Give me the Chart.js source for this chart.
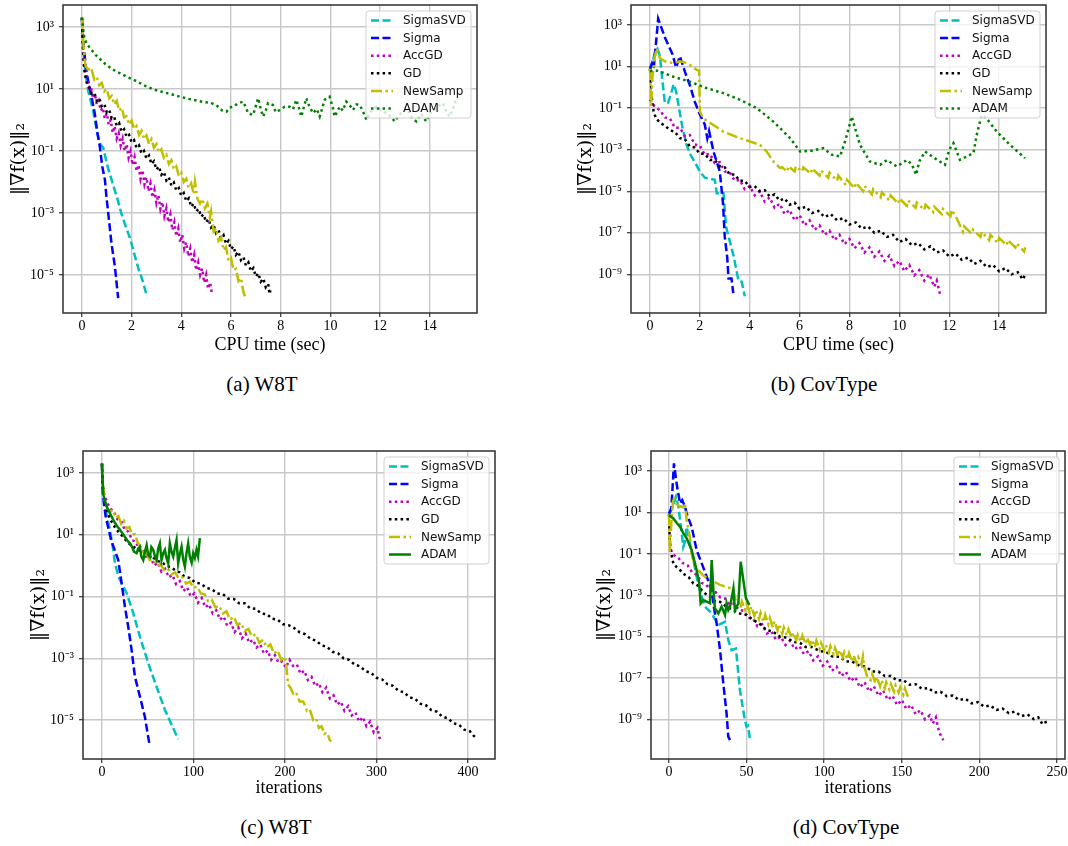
<!DOCTYPE html>
<html lang="en">
<head>
<meta charset="UTF-8" />
<title>Gradient norm vs time / iterations</title>
<script src="https://cdn.jsdelivr.net/npm/chart.js"></script>
<style>
  body {
    margin: 0;
    background: #fff;
    width: 1068px;
    height: 846px;
    position: relative;
    overflow: hidden;
  }

  canvas {
    position: absolute;
  }

  .cap {
    position: absolute;
    font-family: "Liberation Serif", serif;
    font-size: 21px;
    color: #000;
    transform: translateX(-50%);
    white-space: nowrap;
  }
</style>
</head>
<body>

<canvas id="chA" width="500" height="362" style="left:0;top:0"></canvas>
<canvas id="chB" width="508" height="362" style="left:560px;top:0"></canvas>
<canvas id="chC" width="510" height="362" style="left:0;top:440px"></canvas>
<canvas id="chD" width="508" height="362" style="left:560px;top:440px"></canvas>

<div class="cap" style="left:262px;top:372px">(a) W8T</div>
<div class="cap" style="left:824px;top:372px">(b) CovType</div>
<div class="cap" style="left:276px;top:815px">(c) W8T</div>
<div class="cap" style="left:846px;top:815px">(d) CovType</div>

<script>
// series values are [x, log10 of ||grad f(x)||_2]
const seriesNames = ['SigmaSVD', 'Sigma', 'AccGD', 'GD', 'NewSamp', 'ADAM'];

const timeTicks = [0, 2, 4, 6, 8, 10, 12, 14];
const iterTicksW8T = [0, 100, 200, 300, 400];
const iterTicksCov = [0, 50, 100, 150, 200, 250];
const yTicksShort = [1e3, 1e1, 1e-1, 1e-3, 1e-5];
const yLabelsShort = ['10³', '10¹', '10⁻¹', '10⁻³', '10⁻⁵'];
const yTicksLong = [1e3, 1e1, 1e-1, 1e-3, 1e-5, 1e-7, 1e-9];
const yLabelsLong = ['10³', '10¹', '10⁻¹', '10⁻³', '10⁻⁵', '10⁻⁷', '10⁻⁹'];

// (a) W8T, CPU time
const aSigmaSVD = [[0,3.28],[0.05,2.4],[0.12,1.7],[0.25,0.95],[0.46,0.27],[0.6,-0.35],[0.72,-0.75],[0.86,-0.9],[1.05,-1.55],[1.26,-2.1],[1.45,-2.6],[1.6,-3.05],[1.75,-3.4],[1.93,-3.8],[2.1,-4.3],[2.27,-4.78],[2.45,-5.2],[2.62,-5.7]];
const aSigma = [[0,3.28],[0.08,2.3],[0.19,1.5],[0.35,0.9],[0.52,0.2],[0.62,-0.4],[0.72,-0.85],[0.82,-1.5],[0.93,-1.95],[0.99,-2.5],[1.06,-3.0],[1.19,-3.98],[1.33,-4.74],[1.46,-5.75]];
const aAccGD = [[0,3.3],[0.04,2.5],[0.08,1.85],[0.14,1.5],[0.2,1.35],[0.28,1.05],[0.36,1.1],[0.44,0.7],[0.52,0.85],[0.6,0.5],[0.68,0.62],[0.76,0.3],[0.84,0.4],[0.92,0.05],[1.0,0.22],[1.08,-0.15],[1.16,0.0],[1.24,-0.42],[1.32,-0.2],[1.4,-0.6],[1.48,-0.42],[1.56,-0.82],[1.64,-0.6],[1.72,-1.0],[1.8,-0.78],[1.88,-1.22],[1.96,-1.0],[2.04,-1.45],[2.12,-1.2],[2.2,-1.65],[2.28,-1.45],[2.36,-1.9],[2.44,-1.62],[2.52,-2.08],[2.6,-1.85],[2.68,-2.3],[2.76,-2.05],[2.84,-2.5],[2.92,-2.25],[3.0,-2.68],[3.08,-2.42],[3.16,-2.88],[3.24,-2.65],[3.32,-3.1],[3.4,-2.85],[3.48,-3.3],[3.56,-3.05],[3.64,-3.55],[3.72,-3.3],[3.8,-3.75],[3.88,-3.5],[3.96,-3.95],[4.04,-3.7],[4.12,-4.15],[4.2,-3.95],[4.28,-4.4],[4.36,-4.15],[4.44,-4.6],[4.52,-4.35],[4.6,-4.85],[4.68,-4.6],[4.76,-5.0],[4.84,-4.8],[4.92,-5.25],[5.0,-5.0],[5.08,-5.45],[5.16,-5.25],[5.24,-5.65]];
const aGD = [[0,3.3],[0.03,2.6],[0.06,2.0],[0.1,1.6],[0.15,1.35],[0.2,1.2],[0.3,1.05],[0.4,0.85],[0.5,0.88],[0.6,0.62],[0.7,0.7],[0.8,0.45],[0.9,0.52],[1.0,0.25],[1.1,0.32],[1.2,0.05],[1.3,0.1],[1.4,-0.18],[1.5,-0.1],[1.6,-0.38],[1.7,-0.3],[1.8,-0.55],[1.9,-0.48],[2.0,-0.72],[2.1,-0.65],[2.2,-0.9],[2.3,-0.82],[2.4,-1.08],[2.5,-1.0],[2.6,-1.25],[2.7,-1.15],[2.8,-1.42],[2.9,-1.33],[3.0,-1.6],[3.1,-1.5],[3.2,-1.77],[3.3,-1.68],[3.4,-1.95],[3.5,-1.85],[3.6,-2.12],[3.7,-2.02],[3.8,-2.28],[3.9,-2.2],[4.0,-2.45],[4.1,-2.36],[4.2,-2.62],[4.3,-2.53],[4.4,-2.8],[4.5,-2.7],[4.6,-2.95],[4.7,-2.87],[4.8,-3.12],[4.9,-3.05],[5.0,-3.3],[5.1,-3.2],[5.2,-3.47],[5.3,-3.38],[5.4,-3.65],[5.5,-3.55],[5.6,-3.82],[5.7,-3.72],[5.8,-4.0],[5.9,-3.9],[6.0,-4.17],[6.1,-4.08],[6.2,-4.35],[6.3,-4.25],[6.4,-4.52],[6.5,-4.42],[6.6,-4.7],[6.7,-4.6],[6.8,-4.88],[6.9,-4.78],[7.0,-5.05],[7.1,-4.95],[7.2,-5.22],[7.3,-5.12],[7.4,-5.4],[7.5,-5.3],[7.55,-5.62],[7.6,-5.45]];
const aNewSamp = [[0,3.3],[0.05,2.6],[0.1,2.0],[0.15,1.75],[0.2,1.68],[0.25,1.75],[0.3,1.55],[0.4,1.6],[0.5,1.3],[0.6,1.38],[0.7,1.12],[0.8,1.2],[0.9,0.92],[1.0,1.0],[1.1,0.7],[1.2,0.78],[1.3,0.5],[1.4,0.62],[1.5,0.3],[1.6,0.4],[1.7,0.08],[1.8,0.12],[1.9,-0.15],[2.0,-0.02],[2.1,-0.3],[2.2,-0.2],[2.3,-0.48],[2.4,-0.35],[2.5,-0.62],[2.6,-0.5],[2.7,-0.78],[2.8,-0.62],[2.9,-0.9],[3.0,-0.78],[3.1,-1.05],[3.2,-0.95],[3.3,-1.22],[3.4,-1.12],[3.5,-1.42],[3.6,-1.3],[3.7,-1.6],[3.8,-1.5],[3.9,-1.8],[4.0,-1.7],[4.1,-2.0],[4.2,-1.9],[4.3,-2.2],[4.4,-2.05],[4.5,-2.4],[4.55,-2.0],[4.65,-2.55],[4.75,-2.7],[4.85,-2.55],[4.95,-2.85],[5.05,-2.7],[5.15,-3.15],[5.2,-2.95],[5.3,-3.6],[5.4,-3.5],[5.5,-3.9],[5.6,-3.8],[5.7,-4.2],[5.8,-4.1],[5.9,-4.55],[6.0,-4.45],[6.1,-4.85],[6.2,-4.8],[6.3,-5.2],[6.4,-5.1],[6.5,-5.55],[6.56,-5.7]];
const aADAM = [[0,3.3],[0.05,2.95],[0.1,2.65],[0.2,2.45],[0.35,2.3],[0.55,2.1],[0.75,1.95],[0.95,1.8],[1.2,1.65],[1.5,1.52],[1.85,1.38],[2.2,1.25],[2.55,1.1],[2.9,0.98],[3.25,0.9],[3.6,0.83],[3.95,0.75],[4.3,0.68],[4.65,0.62],[4.95,0.57],[5.2,0.55],[5.45,0.45],[5.65,0.3],[5.82,0.27],[5.95,0.4],[6.09,0.43],[6.29,0.54],[6.49,0.59],[6.6,0.4],[6.69,0.22],[6.89,0.16],[7.0,0.45],[7.09,0.7],[7.2,0.35],[7.29,0.11],[7.4,0.3],[7.49,0.54],[7.69,0.48],[7.8,0.25],[7.96,0.32],[8.16,0.43],[8.36,0.43],[8.5,0.35],[8.63,0.65],[8.73,0.4],[8.83,0.11],[9.03,0.7],[9.15,0.45],[9.3,0.22],[9.45,0.35],[9.57,0.11],[9.77,0.65],[9.97,0.75],[10.1,0.4],[10.17,0.11],[10.38,0.43],[10.5,0.3],[10.64,0.59],[10.8,0.45],[10.91,0.32],[11.05,0.5],[11.18,0.48],[11.3,0.3],[11.45,0.0],[11.6,0.25],[11.85,0.43],[12.05,0.3],[12.25,0.22],[12.45,0.1],[12.59,-0.05],[12.75,0.15],[12.92,0.27],[13.1,0.35],[13.3,0.05],[13.46,-0.05],[13.65,0.2],[13.86,-0.05],[14.0,0.2],[14.13,0.32],[14.35,0.45],[14.53,0.54],[14.65,0.3],[14.8,0.11],[14.95,0.4],[15.07,0.7]];

// (b) CovType, CPU time
const bSigmaSVD = [[0,0.8],[0.1,1.2],[0.2,1.7],[0.3,1.85],[0.4,1.5],[0.5,0.3],[0.6,-0.75],[0.72,-0.75],[0.85,-0.3],[0.95,0.15],[1.05,-0.2],[1.15,-0.9],[1.3,-1.9],[1.45,-2.7],[1.6,-3.2],[1.8,-3.6],[2.0,-4.05],[2.2,-4.35],[2.4,-4.4],[2.6,-4.45],[2.68,-5.1],[2.95,-5.1],[3.05,-6.7],[3.35,-8.1],[3.55,-9.3],[3.68,-9.35],[3.8,-10.05]];
const bSigma = [[0,0.9],[0.08,1.15],[0.15,0.9],[0.33,3.3],[0.6,2.4],[0.9,1.6],[1.05,0.95],[1.2,1.5],[1.4,0.75],[1.6,0.1],[1.8,-0.7],[2.0,-1.3],[2.2,-1.8],[2.3,-2.45],[2.37,-2.1],[2.55,-3.1],[2.8,-4.05],[2.93,-5.6],[3.0,-7.2],[3.1,-8.2],[3.15,-9.2],[3.27,-9.2],[3.34,-9.9]];
const bAccGD = [[0,-0.6],[0.2,-0.95],[0.4,-1.1],[0.6,-1.45],[0.8,-1.5],[1.0,-1.95],[1.2,-1.95],[1.4,-2.35],[1.6,-2.3],[1.8,-2.75],[2.0,-2.8],[2.2,-3.25],[2.4,-3.2],[2.6,-3.65],[2.8,-3.6],[3.0,-4.05],[3.2,-4.1],[3.4,-4.5],[3.6,-4.45],[3.8,-4.9],[4.0,-4.75],[4.2,-5.2],[4.4,-5.0],[4.6,-5.5],[4.8,-5.3],[5.0,-5.8],[5.2,-5.6],[5.4,-6.1],[5.6,-5.9],[5.8,-6.4],[6.0,-6.15],[6.2,-6.65],[6.4,-6.4],[6.6,-6.85],[6.8,-6.65],[7.0,-7.1],[7.2,-6.9],[7.4,-7.35],[7.6,-7.1],[7.8,-7.55],[8.0,-7.3],[8.2,-7.75],[8.4,-7.5],[8.6,-7.95],[8.8,-7.7],[9.0,-8.15],[9.2,-7.9],[9.4,-8.35],[9.6,-8.1],[9.8,-8.6],[10.0,-8.35],[10.2,-8.85],[10.4,-8.55],[10.6,-9.05],[10.8,-8.8],[11.0,-9.3],[11.2,-9.0],[11.4,-9.6],[11.5,-9.3],[11.63,-9.95]];
const bGD = [[0,0.9],[0.04,0.2],[0.08,-0.6],[0.15,-1.2],[0.25,-1.5],[0.4,-1.7],[0.6,-1.85],[0.8,-2.05],[1.0,-2.15],[1.2,-2.45],[1.4,-2.5],[1.6,-2.85],[1.8,-2.9],[2.0,-3.2],[2.2,-3.2],[2.4,-3.5],[2.6,-3.5],[2.8,-3.8],[3.0,-3.85],[3.2,-4.2],[3.4,-4.2],[3.6,-4.5],[3.8,-4.5],[4.0,-4.8],[4.2,-4.75],[4.4,-5.0],[4.6,-4.95],[4.8,-5.25],[5.0,-5.15],[5.2,-5.45],[5.4,-5.35],[5.6,-5.65],[5.8,-5.55],[6.0,-5.85],[6.25,-5.75],[6.5,-6.05],[6.75,-5.95],[7.0,-6.25],[7.25,-6.1],[7.5,-6.4],[7.75,-6.3],[8.0,-6.6],[8.25,-6.5],[8.5,-6.8],[8.75,-6.7],[9.0,-7.0],[9.25,-6.9],[9.5,-7.2],[9.75,-7.1],[10.0,-7.45],[10.25,-7.3],[10.5,-7.6],[10.75,-7.5],[11.0,-7.8],[11.25,-7.65],[11.5,-7.95],[11.75,-7.85],[12.0,-8.15],[12.25,-8.0],[12.5,-8.3],[12.75,-8.2],[13.0,-8.5],[13.25,-8.35],[13.5,-8.65],[13.75,-8.55],[14.0,-8.85],[14.25,-8.7],[14.5,-9.0],[14.75,-8.9],[14.95,-9.25],[15.05,-9.0]];
const bNewSamp = [[0,0.9],[0.05,-0.9],[0.1,0.5],[0.2,1.5],[0.27,1.88],[0.4,1.4],[0.6,1.25],[0.94,1.16],[1.2,1.25],[1.4,1.2],[1.6,1.08],[1.87,0.84],[1.97,0.8],[2.0,-1.17],[2.14,-1.49],[2.94,-2.13],[3.61,-2.45],[4.41,-2.77],[4.68,-3.09],[4.95,-3.57],[5.22,-3.89],[5.3,-3.85],[5.5,-4.05],[5.55,-3.8],[5.8,-4.05],[5.85,-3.8],[6.1,-4.05],[6.15,-3.85],[6.45,-4.15],[6.5,-3.9],[6.8,-4.25],[6.85,-4.0],[7.15,-4.35],[7.2,-4.1],[7.5,-4.5],[7.55,-4.25],[7.85,-4.7],[7.9,-4.45],[8.2,-4.85],[8.25,-4.6],[8.55,-5.0],[8.6,-4.75],[8.9,-5.15],[8.95,-4.9],[9.25,-5.3],[9.3,-5.05],[9.6,-5.45],[9.65,-5.2],[9.95,-5.6],[10.0,-5.35],[10.3,-5.7],[10.35,-5.45],[10.65,-5.8],[10.7,-5.55],[11.0,-5.9],[11.05,-5.65],[11.35,-6.0],[11.4,-5.75],[11.7,-6.1],[11.75,-5.85],[12.05,-6.2],[12.1,-5.9],[12.3,-6.3],[12.55,-6.95],[12.6,-6.7],[12.9,-7.05],[12.95,-6.85],[13.25,-7.2],[13.3,-6.95],[13.6,-7.35],[13.65,-7.1],[13.95,-7.5],[14.0,-7.25],[14.3,-7.6],[14.35,-7.35],[14.65,-7.7],[14.7,-7.5],[15.0,-7.9],[15.05,-7.7]];
const bADAM = [[0,0.77],[0.3,0.8],[0.94,0.51],[1.6,0.27],[2.27,-0.04],[2.94,-0.28],[3.61,-0.6],[4.28,-1.0],[4.95,-1.65],[5.62,-2.45],[6.02,-3.09],[6.5,-3.05],[6.95,-2.93],[7.3,-3.25],[7.62,-3.33],[7.85,-2.5],[8.09,-1.41],[8.42,-2.77],[8.82,-3.57],[9.23,-3.73],[9.5,-3.5],[9.9,-3.81],[10.3,-3.5],[10.5,-3.7],[10.67,-4.21],[10.8,-3.57],[11.03,-3.09],[11.4,-3.4],[11.83,-3.73],[12.0,-3.0],[12.17,-2.69],[12.43,-3.49],[12.97,-3.17],[13.1,-2.3],[13.3,-1.33],[13.5,-1.5],[13.9,-2.13],[14.44,-2.77],[15.04,-3.41]];

// (c) W8T, iterations
const cSigmaSVD = [[0,3.3],[1,2.5],[3.3,1.9],[8.7,1.16],[12.4,0.5],[14.2,0.08],[18,-0.35],[21.5,-0.57],[27,-0.89],[34.2,-1.54],[41.5,-2.3],[50.6,-3.16],[59.7,-3.92],[68.8,-4.67],[77.8,-5.26],[83.3,-5.62]];
const cSigma = [[0,3.3],[1,2.3],[4,1.6],[10,0.83],[17.8,0.18],[21.5,-0.57],[25.1,-1.33],[28.7,-1.97],[32.4,-2.73],[36,-3.59],[41.5,-4.24],[46.9,-4.89],[51.7,-5.75]];
const cAccGD = [[0,3.3],[1,2.6],[2,2.35],[5,2.1],[9,1.85],[13,1.75],[17,1.5],[21,1.45],[25,1.15],[29,1.1],[33,0.82],[37,0.78],[41,0.5],[45,0.52],[49,0.25],[53,0.3],[57,0.0],[61,0.1],[65,-0.2],[69,-0.1],[73,-0.38],[77,-0.3],[81,-0.6],[85,-0.5],[89,-0.82],[93,-0.7],[97,-1.0],[101,-0.9],[105,-1.2],[109,-1.05],[113,-1.35],[117,-1.25],[121,-1.55],[125,-1.45],[129,-1.75],[133,-1.65],[137,-1.95],[141,-1.85],[145,-2.15],[149,-2.0],[153,-2.35],[157,-2.2],[161,-2.5],[165,-2.4],[169,-2.65],[173,-2.55],[177,-2.85],[181,-2.75],[185,-3.05],[189,-2.9],[193,-3.15],[197,-3.1],[201,-3.3],[205,-3.05],[209,-3.25],[213,-3.2],[217,-3.5],[221,-3.4],[225,-3.7],[229,-3.6],[233,-3.9],[237,-3.8],[241,-4.1],[245,-3.95],[249,-4.3],[253,-4.2],[257,-4.5],[261,-4.4],[265,-4.7],[269,-4.55],[273,-4.85],[277,-4.75],[281,-5.05],[285,-4.9],[289,-5.2],[293,-5.05],[297,-5.4],[301,-5.25],[303,-5.55],[305,-5.7]];
const cGD = [[0,3.3],[1,2.5],[3.3,2.1],[6,1.75],[9,1.5],[12,1.35],[15,1.2],[19,1.05],[23,0.94],[28,0.75],[34,0.62],[40,0.5],[45,0.45],[50,0.32],[55,0.3],[60,0.15],[65,0.12],[70,0.0],[75,-0.05],[80,-0.15],[85,-0.22],[90,-0.35],[96,-0.4],[102,-0.55],[108,-0.58],[114,-0.72],[120,-0.76],[126,-0.9],[132,-0.92],[138,-1.07],[144,-1.08],[150,-1.22],[156,-1.22],[162,-1.38],[168,-1.4],[174,-1.55],[180,-1.57],[186,-1.72],[192,-1.75],[198,-1.9],[204,-1.93],[210,-2.02],[216,-2.16],[222,-2.22],[228,-2.37],[234,-2.43],[240,-2.58],[246,-2.63],[252,-2.79],[258,-2.84],[264,-3.0],[270,-3.05],[276,-3.2],[282,-3.26],[288,-3.42],[294,-3.47],[300,-3.63],[306,-3.68],[312,-3.84],[318,-3.89],[324,-4.05],[330,-4.1],[336,-4.26],[342,-4.31],[348,-4.47],[354,-4.52],[360,-4.68],[366,-4.73],[372,-4.89],[378,-4.94],[384,-5.1],[390,-5.15],[396,-5.31],[402,-5.36],[406,-5.5],[409,-5.6]];
const cNewSamp = [[0,3.3],[1,2.6],[3,2.1],[6,1.85],[9,1.75],[12,1.8],[15,1.55],[18,1.6],[21,1.35],[24,1.45],[27,1.2],[30,1.25],[33,1.0],[36,1.02],[39,0.75],[42,0.62],[45,0.4],[48,0.45],[52,0.18],[56,0.2],[60,0.0],[64,0.05],[68,-0.15],[72,-0.1],[76,-0.28],[80,-0.22],[84,-0.42],[88,-0.38],[92,-0.58],[96,-0.52],[100,-0.72],[104,-0.68],[108,-0.9],[112,-0.92],[116,-1.15],[120,-1.1],[124,-1.35],[128,-1.3],[132,-1.55],[136,-1.48],[140,-1.75],[144,-1.65],[148,-1.92],[152,-1.85],[156,-2.12],[160,-2.05],[164,-2.3],[168,-2.22],[172,-2.5],[176,-2.4],[180,-2.65],[184,-2.55],[188,-2.85],[192,-2.75],[196,-3.05],[200,-2.95],[201.6,-3.3],[203.4,-3.85],[206,-3.95],[209,-4.15],[212,-4.1],[216,-4.4],[220,-4.4],[224,-4.7],[227,-4.65],[231,-5.0],[234,-4.95],[237,-5.25],[240,-5.2],[243,-5.45],[246,-5.4],[249,-5.65],[250.7,-5.69]];
const cADAM = [[0,3.3],[0.5,2.9],[1.5,2.3],[3.3,2.1],[6,1.85],[8.7,1.7],[12,1.5],[16,1.3],[19.7,1.16],[24,0.98],[28,0.8],[30.6,0.72],[33,0.6],[35,0.45],[37.9,0.4],[39.5,0.55],[41.5,0.61],[43,0.3],[45.1,0.18],[47,0.45],[48.8,0.66],[50.5,0.35],[52.4,0.29],[54,0.6],[56,0.51],[58,0.3],[59.7,0.18],[61.5,0.55],[63.3,0.72],[65.1,0.18],[67,0.4],[68.8,0.51],[70.5,0.25],[72.4,0.07],[74.2,0.72],[76,0.45],[77.9,0.29],[79.5,0.55],[81.5,0.83],[83.3,0.07],[85,0.35],[87,0.61],[88.8,0.2],[90.6,-0.03],[92.4,0.4],[94.2,0.72],[96,0.29],[98,0.1],[99.7,0.4],[101.5,0.25],[103.3,0.51],[105,0.3],[107,0.89]];

// (d) CovType, iterations
const dSigmaSVD = [[0,0.9],[2,1.2],[4.5,1.76],[6,1.3],[8.2,0.0],[9.2,-0.66],[10.3,-0.4],[11.4,0.31],[13.5,-0.49],[17.8,-2.1],[21.1,-3.07],[23.2,-3.55],[27.5,-3.87],[31.8,-4.44],[36.1,-4.28],[38.2,-5.16],[40.3,-5.65],[43.1,-5.57],[45.7,-7.58],[48.9,-9.03],[50,-9.35],[51,-9.3],[52.2,-10.0]];
const dSigma = [[0,0.95],[1.5,1.2],[3.2,3.37],[4.9,2.4],[7.1,1.44],[8.5,1.6],[10.3,1.28],[11.4,0.95],[14.6,0.31],[17.8,-0.82],[21.1,-1.46],[24.3,-2.1],[27.5,-2.75],[29,-3.6],[30.7,-4.36],[32.9,-5.65],[35,-7.26],[37.1,-8.71],[38.2,-9.83],[39.3,-10.0]];
const dAccGD = [[1,-0.8],[3,-1.05],[6,-1.2],[9,-1.45],[12,-1.55],[15,-1.9],[18,-2.0],[21,-2.4],[24,-2.5],[27,-2.8],[30,-2.85],[33,-3.1],[36,-3.15],[39,-3.45],[42,-3.4],[45,-3.7],[48,-3.75],[51,-4.1],[54,-4.1],[57,-4.5],[60,-4.4],[63,-4.85],[66,-4.75],[69,-5.15],[72,-5.0],[75,-5.4],[78,-5.2],[81,-5.6],[84,-5.45],[87,-5.85],[90,-5.7],[93,-6.15],[96,-5.95],[99,-6.4],[102,-6.2],[105,-6.65],[108,-6.45],[111,-6.9],[114,-6.7],[117,-7.15],[120,-6.95],[123,-7.45],[126,-7.2],[129,-7.65],[132,-7.4],[135,-7.85],[138,-7.6],[141,-8.05],[144,-7.85],[147,-8.3],[150,-8.05],[153,-8.5],[156,-8.3],[159,-8.75],[162,-8.55],[165,-9.0],[168,-8.8],[170,-9.2],[172,-8.9],[174,-9.6],[176.8,-10.0]];
const dGD = [[0,0.9],[0.5,-0.3],[1.5,-1.0],[2.8,-1.46],[5,-1.65],[7.1,-1.78],[10,-2.0],[13,-2.15],[15.7,-2.43],[19,-2.55],[22,-2.85],[26.4,-3.07],[30,-3.3],[33,-3.32],[37.1,-3.55],[41,-3.7],[45.7,-3.88],[50,-3.95],[54.3,-4.2],[58,-4.35],[62.9,-4.68],[67,-4.75],[71.5,-5.0],[76,-5.05],[80,-5.25],[84.4,-5.3],[88,-5.5],[92,-5.5],[97.3,-5.7],[101,-5.72],[105,-5.95],[110.2,-5.97],[114,-6.2],[118,-6.2],[123.1,-6.42],[127,-6.45],[131,-6.68],[135,-6.68],[139,-6.9],[143,-6.9],[147,-7.12],[151,-7.1],[155,-7.32],[159,-7.3],[163,-7.52],[167,-7.48],[171,-7.7],[175,-7.66],[179,-7.88],[183,-7.84],[187,-8.06],[191,-8.0],[195,-8.22],[199,-8.16],[203,-8.38],[207,-8.32],[211,-8.54],[215,-8.48],[219,-8.7],[223,-8.62],[227,-8.84],[231,-8.76],[235,-8.98],[238,-8.9],[240,-9.15],[242.3,-9.05],[243,-9.2]];
const dNewSamp = [[0,0.9],[0.5,-0.98],[1.5,0.5],[2.8,1.76],[4.9,1.4],[7.1,1.3],[9.2,1.25],[10.3,1.44],[11.4,0.6],[13.5,-0.2],[14.6,-1.0],[16.8,-1.6],[22.1,-2.05],[32.9,-2.5],[41.4,-2.7],[43,-3.25],[44,-3.25],[46,-3.6],[47,-3.3],[49,-3.7],[50,-3.4],[52,-3.85],[53,-3.55],[55,-4.0],[56,-3.7],[58,-4.15],[59,-3.85],[61,-4.3],[62,-3.95],[64,-4.4],[65,-4.1],[67,-4.55],[68,-4.25],[70,-4.7],[71,-4.4],[73,-4.85],[74,-4.55],[76,-4.95],[77,-4.65],[79,-5.05],[80,-4.8],[82,-5.15],[83,-4.9],[85,-5.25],[86,-4.95],[88,-5.35],[89,-5.05],[91,-5.4],[92,-5.15],[94,-5.5],[95,-5.2],[97,-5.6],[98,-5.3],[100,-5.65],[101,-5.4],[103,-5.75],[104,-5.45],[106,-5.85],[107,-5.55],[109,-5.95],[110,-5.65],[112,-6.0],[113,-5.75],[115,-6.1],[116,-5.8],[118,-6.2],[119,-5.9],[121,-6.3],[122,-6.0],[124,-6.35],[125,-5.95],[126,-6.5],[128,-7.0],[130,-7.1],[131,-6.8],[133,-7.25],[134,-6.95],[136,-7.4],[137,-7.1],[139,-7.5],[140,-7.2],[142,-7.55],[143,-7.3],[145,-7.65],[146,-7.35],[148,-7.7],[149,-7.45],[151,-7.8],[152,-7.5],[154,-7.9]];
const dADAM = [[0,0.87],[2.8,0.71],[4.9,0.5],[7.1,0.31],[9.2,0.0],[11.4,-0.25],[14.6,-0.82],[17.8,-1.78],[19.5,-2.43],[20.4,-3.39],[22.1,-3.23],[24.3,-3.31],[26.4,-3.39],[27.5,-1.3],[28.6,-2.75],[29.6,-3.63],[31.8,-3.88],[33.9,-3.55],[36.1,-3.96],[37.1,-3.39],[38.2,-3.71],[39.5,-3.5],[41.5,-2.67],[42.5,-3.71],[44.7,-3.39],[46.2,-1.38],[47.9,-2.27],[49.6,-3.15],[51.8,-3.47]];

// matplotlib-ish line styles
const dashed = [8, 3.5];
const dotted = [2.5, 3.3];
const dashDot = [11, 3.5, 2.5, 3.5];
const styleOf = {
    SigmaSVD: { color: '#00bfbf', dash: dashed },
    Sigma: { color: '#0000ff', dash: dashed },
    AccGD: { color: '#bf00bf', dash: dotted },
    GD: { color: '#000000', dash: dotted },
    NewSamp: { color: '#bfbf00', dash: dashDot },
    ADAM: { color: '#008000', dash: dotted }
};

function toPoints(arr) {
    return arr.map(p => ({ x: p[0], y: Math.pow(10, p[1]) }));
}

// frame round the plot + legend box in the upper right corner
const frameAndKey = {
    id: 'frameAndKey',
    afterDatasetsDraw(chart) {
        const { ctx, chartArea: a } = chart;
        ctx.save();
        ctx.setLineDash([]);
        ctx.strokeStyle = '#2e2e2e';
        ctx.lineWidth = 1.5;
        ctx.strokeRect(a.left, a.top, a.right - a.left, a.bottom - a.top);

        const w = 105, h = 107;
        const bx = a.right - 6 - w, by = a.top + 6;
        ctx.beginPath();
        ctx.roundRect(bx, by, w, h, 3);
        ctx.fillStyle = 'rgba(255,255,255,0.8)';
        ctx.fill();
        ctx.strokeStyle = '#d0d0d0';
        ctx.lineWidth = 1;
        ctx.stroke();

        ctx.font = '12px "DejaVu Sans", sans-serif';
        ctx.textBaseline = 'middle';
        chart.data.datasets.forEach((ds, i) => {
            const y = by + 9.5 + i * 17.6;
            ctx.strokeStyle = ds.borderColor;
            ctx.lineWidth = 2.5;
            ctx.setLineDash(ds.borderDash);
            ctx.beginPath();
            ctx.moveTo(bx + 5, y);
            ctx.lineTo(bx + 27, y);
            ctx.stroke();
            ctx.setLineDash([]);
            ctx.fillStyle = '#111';
            ctx.fillText(ds.label, bx + 37, y + 0.5);
        });
        ctx.restore();
    }
};

function makeChart(id, p) {
    const datasets = p.series.map((values, i) => {
        const name = seriesNames[i];
        const st = (name === 'ADAM' && p.adamSolid) ? { color: '#008000', dash: [] } : styleOf[name];
        return {
            label: name,
            data: toPoints(values),
            borderColor: st.color,
            borderDash: st.dash,
            borderWidth: 2.5,
            pointRadius: 0,
            tension: 0,
            fill: false,
            order: p.series.length - i
        };
    });

    const tickFont = { family: 'Liberation Serif', size: 14 };
    const gridStyle = { color: '#c8c8c8', lineWidth: 1.4, tickLength: 4, tickColor: '#333', tickWidth: 1.2 };

    return new Chart(document.getElementById(id), {
        type: 'line',
        data: { datasets },
        options: {
            responsive: false,
            animation: false,
            events: [],
            layout: { padding: p.pad },
            plugins: { legend: { display: false }, tooltip: { enabled: false } },
            scales: {
                x: {
                    type: 'linear',
                    min: p.xMin,
                    max: p.xMax,
                    afterBuildTicks: s => { s.ticks = p.xTicks.map(v => ({ value: v })); },
                    afterFit: s => { s.height = p.xAxisH; s.paddingLeft = 0; s.paddingRight = 0; },
                    ticks: { font: tickFont, color: '#000', padding: 1, autoSkip: false, maxRotation: 0 },
                    grid: gridStyle,
                    border: { display: false },
                    title: {
                        display: true, text: p.xTitle, color: '#000',
                        font: { family: 'Liberation Serif', size: 18 },
                        padding: { top: 0, bottom: p.xTitlePad }
                    }
                },
                y: {
                    type: 'logarithmic',
                    min: Math.pow(10, p.yMinExp),
                    max: Math.pow(10, p.yMaxExp),
                    afterBuildTicks: s => { s.ticks = p.yTicks.map(v => ({ value: v })); },
                    afterFit: s => { s.width = p.yAxisW; s.paddingTop = 0; s.paddingBottom = 0; },
                    ticks: {
                        font: tickFont, color: '#000', padding: 5, autoSkip: false,
                        callback: (v, i) => p.yLabels[i]
                    },
                    grid: gridStyle,
                    border: { display: false },
                    title: {
                        display: true, text: '‖∇f(x)‖₂', color: '#000',
                        font: { family: 'DejaVu Serif', size: 19 },
                        padding: { top: p.yTitlePad, bottom: 0 }
                    }
                }
            }
        },
        plugins: [frameAndKey]
    });
}

makeChart('chA', {
    series: [aSigmaSVD, aSigma, aAccGD, aGD, aNewSamp, aADAM],
    xMin: -0.76, xMax: 15.9, yMinExp: -6.23, yMaxExp: 3.71,
    xTicks: timeTicks, yTicks: yTicksShort, yLabels: yLabelsShort,
    xTitle: 'CPU time (sec)',
    pad: { left: 0, top: 5, right: 23, bottom: 0 }, yAxisW: 63, xAxisH: 49, xTitlePad: 6, yTitlePad: 8
});

makeChart('chB', {
    series: [bSigmaSVD, bSigma, bAccGD, bGD, bNewSamp, bADAM],
    xMin: -0.76, xMax: 15.88, yMinExp: -10.86, yMaxExp: 3.96,
    xTicks: timeTicks, yTicks: yTicksLong, yLabels: yLabelsLong,
    xTitle: 'CPU time (sec)',
    pad: { left: 0, top: 5, right: 22, bottom: 0 }, yAxisW: 71, xAxisH: 49, xTitlePad: 6, yTitlePad: 15
});

makeChart('chC', {
    series: [cSigmaSVD, cSigma, cAccGD, cGD, cNewSamp, cADAM],
    xMin: -20.7, xMax: 429.5, yMinExp: -6.26, yMaxExp: 3.71,
    xTicks: iterTicksW8T, yTicks: yTicksShort, yLabels: yLabelsShort,
    xTitle: 'iterations', adamSolid: true,
    pad: { left: 0, top: 11, right: 15, bottom: 0 }, yAxisW: 83, xAxisH: 43, xTitlePad: 3, yTitlePad: 28
});

makeChart('chD', {
    series: [dSigmaSVD, dSigma, dAccGD, dGD, dNewSamp, dADAM],
    xMin: -11.6, xMax: 255.2, yMinExp: -10.91, yMaxExp: 3.97,
    xTicks: iterTicksCov, yTicks: yTicksLong, yLabels: yLabelsLong,
    xTitle: 'iterations', adamSolid: true,
    pad: { left: 0, top: 11, right: 3, bottom: 0 }, yAxisW: 91, xAxisH: 43, xTitlePad: 3, yTitlePad: 34
});
</script>

</body>
</html>
